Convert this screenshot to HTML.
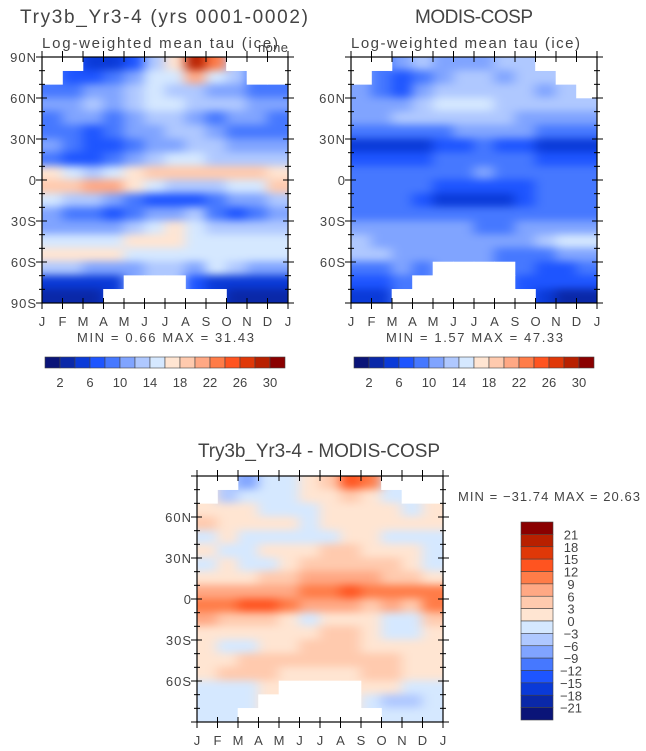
<!DOCTYPE html>
<html><head><meta charset="utf-8">
<style>
html,body{margin:0;padding:0;background:#fff;}
svg{display:block;font-family:"Liberation Sans",sans-serif;}
</style></head>
<body>
<svg id="chart" width="646" height="751" viewBox="0 0 646 751" xmlns="http://www.w3.org/2000/svg">
<defs>
<filter id="soft" filterUnits="userSpaceOnUse" x="0" y="0" width="646" height="751" color-interpolation-filters="sRGB"><feGaussianBlur stdDeviation="6 4"/></filter>
<clipPath id="c1"><rect x="42" y="57" width="246" height="246"/></clipPath>
<clipPath id="c2"><rect x="351" y="57" width="246" height="246"/></clipPath>
<clipPath id="c3"><rect x="197" y="476" width="246" height="246"/></clipPath>
</defs>
<text x="20" y="23" font-size="19" textLength="288" lengthAdjust="spacing" fill="#444">Try3b_Yr3-4 (yrs 0001-0002)</text>
<text x="42" y="48" font-size="15" textLength="236" lengthAdjust="spacing" fill="#444">Log-weighted mean tau (ice)</text>
<text x="258" y="52" font-size="13" textLength="30" lengthAdjust="spacing" fill="#444">none</text>
<text x="415" y="23" font-size="19" textLength="118" lengthAdjust="spacing" fill="#444">MODIS-COSP</text>
<text x="351" y="48" font-size="15" textLength="229" lengthAdjust="spacing" fill="#444">Log-weighted mean tau (ice)</text>
<text x="198" y="457" font-size="19" textLength="242" lengthAdjust="spacing" fill="#444">Try3b_Yr3-4 - MODIS-COSP</text>
<text x="77" y="342" font-size="13" textLength="177" lengthAdjust="spacing" fill="#444">MIN =    0.66 MAX =   31.43</text>
<text x="386" y="342" font-size="13" textLength="177" lengthAdjust="spacing" fill="#444">MIN =    1.57 MAX =   47.33</text>
<text x="458" y="501" font-size="13" textLength="182" lengthAdjust="spacing" fill="#444">MIN = −31.74 MAX =   20.63</text>
</svg>
<script>
const months = ["J","F","M","A","M","J","J","A","S","O","N","D","J"];
const latLabelsFull = ["90N","60N","30N","0","30S","60S","90S"];
const latLabelsInner = ["","60N","30N","0","30S","60S",""];
const tauBounds = [2,4,6,8,10,12,14,16,18,20,22,24,26,28,30];
const tauTicks = ["2","6","10","14","18","22","26","30"];
const diffBounds = [-21,-18,-15,-12,-9,-6,-3,0,3,6,9,12,15,18,21];
const diffTicks = ["21","18","15","12","9","6","3","0","−3","−6","−9","−12","−15","−18","−21"];
const palette = ["#0a1478","#0a28a8","#0a3ad8","#1e55ff","#4678ff","#80a4ff","#afc8ff","#d5e8ff","#ffe5d2","#ffcaae","#ffa884","#ff7c48","#ff5420","#e03808","#b82000","#8a0000"];
const n = null;
// rows: 85N .. 85S (10 deg bands), cols: Jan..Dec
const modelTau = [
[n,n,4,5,7,13,17,28,22,n,n,n],
[n,6,6,8,10,14,15,20,14,12,n,n],
[8,9,10,11,12,14,13,12,10,10,9,8],
[10,10,12,11,13,14,14,13,12,12,11,11],
[9,10,10,9,10,12,12,10,8,10,10,9],
[8,8,7,8,10,11,12,12,10,8,8,9],
[10,8,6,7,8,10,11,12,12,10,10,10],
[8,7,6,8,10,12,14,14,13,12,12,12],
[16,14,13,14,16,18,19,19,18,18,18,16],
[18,18,20,20,16,14,12,13,13,14,14,18],
[14,12,12,10,9,7,6,6,8,10,10,12],
[10,9,8,7,8,10,10,12,9,7,8,10],
[10,11,10,10,12,14,16,15,12,12,12,12],
[14,14,15,15,16,16,16,14,14,14,14,14],
[16,16,17,16,15,14,14,14,14,14,14,14],
[12,12,11,11,10,13,13,10,14,12,10,10],
[4,4,4,5,n,n,n,6,4,4,4,4],
[2,2,2,n,n,n,n,n,n,2,2,2]];
const modisTau = [
[n,n,10,12,10,10,10,12,12,n,n,n],
[n,8,6,8,10,12,12,10,12,12,n,n],
[10,8,7,10,12,12,12,12,12,10,12,n],
[10,10,11,12,14,14,14,13,12,12,12,12],
[10,10,12,12,12,12,12,12,10,10,10,10],
[8,8,8,8,9,10,10,10,10,9,8,8],
[5,4,4,5,6,7,8,7,6,5,4,5],
[7,7,7,7,8,8,8,8,8,7,7,7],
[8,8,8,8,8,8,10,8,8,8,8,8],
[8,8,9,8,6,6,6,6,7,8,8,8],
[8,8,8,6,5,5,5,5,6,8,8,8],
[8,8,8,8,8,8,8,8,8,8,8,8],
[10,10,10,10,10,10,9,8,10,10,10,10],
[12,10,10,10,10,10,10,10,10,12,14,14],
[12,13,10,10,10,10,10,8,8,8,10,10],
[8,8,10,8,n,n,n,n,8,6,6,8],
[6,6,8,n,n,n,n,n,6,6,6,6],
[4,4,n,n,n,n,n,n,n,4,2,2]];
const diffTau = [
[n,n,-8,-3,-2,2,5,14,10,n,n,n],
[n,-6,-3,-2,-2,1,2,4,1,-1,n,n],
[2,2,1,-1,-1,-1,1,1,1,1,-1,1],
[4,2,1,2,1,-1,2,2,2,1,2,2],
[-1,1,-1,-1,-1,-1,-1,1,1,-1,-1,-1],
[1,-1,-1,1,2,2,3,3,1,1,1,-1],
[-1,1,-1,-1,1,4,5,5,5,4,2,-1],
[1,1,2,4,5,6,7,8,7,5,4,2],
[8,8,6,7,8,10,11,12,11,10,9,9],
[11,10,12,12,10,7,6,6,5,6,5,10],
[6,4,4,3,2,-1,1,1,1,-1,-1,4],
[2,1,1,1,1,2,3,4,2,-1,-1,1],
[1,-1,-1,1,2,3,4,3,1,1,1,1],
[2,2,3,3,4,5,5,4,3,3,2,2],
[2,3,4,3,2,2,2,2,3,4,2,2],
[-1,-1,-1,1,n,n,n,n,2,1,-1,-1],
[-3,-1,-2,n,n,n,n,n,-3,-5,-4,-3],
[-3,-3,n,n,n,n,n,n,n,-3,-2,-1]];

const NS = "http://www.w3.org/2000/svg";
const svg = document.getElementById("chart");
function el(tag, attrs, parent){
  const e = document.createElementNS(NS, tag);
  for (const k in attrs) e.setAttribute(k, attrs[k]);
  (parent||svg).appendChild(e);
  return e;
}
function colorFor(v, bounds){
  let i = 0;
  while (i < bounds.length && v >= bounds[i]) i++;
  return palette[i];
}
function drawPanel(name, data, bounds, x0, y0, clip, latLabels){
  const W = 246, H = 246;
  const nc = data[0].length, nr = data.length;
  const xS = c => x0 + c * W / nc;
  const yS = r => y0 + r * H / nr;
  const g = el("g", {"clip-path":"url(#"+clip+")"});
  
  
  el("rect", {x:x0, y:y0, width:W, height:H, fill:"#fff"}, g);
  const blur = el("g", {filter:"url(#soft)"}, g);
  for (let r = 0; r < nr; r++) for (let c = 0; c < nc; c++) {
    let v = data[r][c];
    if (v === null) {
      let rr = r; while (rr >= 0 && rr < nr && data[rr][c] === null) rr += (r < nr/2 ? 1 : -1);
      v = (rr >= 0 && rr < nr) ? data[rr][c] : 0;
    }
    const ex0 = c === 0 ? 14 : 0, ex1 = c === nc-1 ? 14 : 0;
    const ey0 = r === 0 ? 14 : 0, ey1 = r === nr-1 ? 14 : 0;
    const cell = el("rect", {x:xS(c)-0.5-ex0, y:yS(r)-0.5-ey0, width:W/nc+1+ex0+ex1, height:H/nr+1+ey0+ey1, fill:colorFor(v, bounds)}, blur);
    
    
  }
  for (let r = 0; r < nr; r++) for (let c = 0; c < nc; c++) {
    if (data[r][c] === null) {
      const m = el("rect", {x:xS(c)-0.3, y:yS(r)-0.3, width:W/nc+0.6, height:H/nr+0.6, fill:"#fff"}, g);
      
      
    }
  }
  const frame = el("rect", {x:x0, y:y0, width:W, height:H, fill:"none", stroke:"#000", "stroke-width":1.2});
  
  
  for (let i = 0; i <= 12; i++) {
    const x = x0 + i * W / 12;
    el("line", {x1:x, y1:y0+H-5, x2:x, y2:y0+H+6, stroke:"#000", "stroke-width":1});
    el("line", {x1:x, y1:y0-6, x2:x, y2:y0+5, stroke:"#000", "stroke-width":1});
    const t = el("text", {x:x, y:y0+H+23, "font-size":13, "text-anchor":"middle", fill:"#444"});
    t.textContent = months[i];
    
    
  }
  for (let j = 0; j <= 18; j++) {
    const y = y0 + j * H / 18;
    const major = j % 3 === 0;
    const L = major ? 6 : 3;
    el("line", {x1:x0-L, y1:y, x2:x0+(major?5:3), y2:y, stroke:"#000", "stroke-width":1});
    el("line", {x1:x0+W-(major?5:3), y1:y, x2:x0+W+L, y2:y, stroke:"#000", "stroke-width":1});
    if (major && latLabels[j/3]) {
      const t = el("text", {x:x0-5, y:y+5, "font-size":13, "text-anchor":"end", "letter-spacing":"1", fill:"#444"});
      t.textContent = latLabels[j/3];
      
      
    }
  }
}
function hBar(name, x0, y0, w, h, labels){
  const n = palette.length, bw = w / n;
  for (let i = 0; i < n; i++) {
    const b = el("rect", {x:x0+i*bw, y:y0, width:bw, height:h, fill:palette[i], stroke:"#444", "stroke-width":0.6});
    
    
  }
  labels.forEach((lab, k) => {
    const t = el("text", {x:x0+(2*k+1)*bw, y:y0+h+19, "font-size":13, "text-anchor":"middle", fill:"#444"});
    t.textContent = lab;
    
    
  });
}
function vBar(name, x0, y0, w, h, labels){
  const n = palette.length, bh = h / n;
  for (let i = 0; i < n; i++) {
    const b = el("rect", {x:x0, y:y0+i*bh, width:w, height:bh, fill:palette[n-1-i], stroke:"#444", "stroke-width":0.6});
    
    
  }
  labels.forEach((lab, k) => {
    const t = el("text", {x:x0+w+18, y:y0+(k+1)*bh+5, "font-size":13, "text-anchor":"middle", fill:"#444"});
    t.textContent = lab;
    
    
  });
}
drawPanel("model-panel", modelTau, tauBounds, 42, 57, "c1", latLabelsFull);
drawPanel("modis-panel", modisTau, tauBounds, 351, 57, "c2", latLabelsInner);
drawPanel("diff-panel", diffTau, diffBounds, 197, 476, "c3", latLabelsInner);
hBar("model-colorbar", 45, 357, 240, 11, tauTicks);
hBar("modis-colorbar", 354, 357, 240, 11, tauTicks);
vBar("diff-colorbar", 521, 522, 32, 198, diffTicks);
</script>
</body></html>
